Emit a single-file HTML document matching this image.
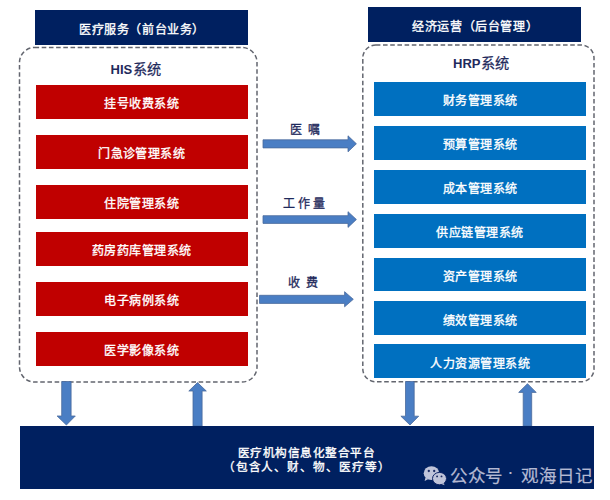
<!DOCTYPE html>
<html lang="zh-CN">
<head>
<meta charset="utf-8">
<style>
html,body{margin:0;padding:0;background:#fff;}
body{width:610px;height:500px;position:relative;overflow:hidden;font-family:"Liberation Serif",serif;}
.b{position:absolute;display:flex;align-items:center;justify-content:center;color:#fff;white-space:nowrap;}
.nv{background:#002060;}
.rd{background:#C00000;left:35.5px;width:212px;height:34px;font-size:12px;letter-spacing:0.45px;text-indent:0.45px;-webkit-text-stroke:0.35px #fff;padding-top:1px;box-sizing:border-box;}
.bl{background:#0070C0;left:373.5px;width:212.5px;height:33.5px;font-size:12px;letter-spacing:0.5px;text-indent:0.5px;padding-top:3px;box-sizing:border-box;-webkit-text-stroke:0.35px #fff;}
.hd{font-size:12px;letter-spacing:0.6px;text-indent:1px;-webkit-text-stroke:0.35px #fff;padding-top:2px;box-sizing:border-box;}
.t{position:absolute;white-space:nowrap;color:#1f2a5c;}
.ttl{font-family:"Liberation Sans",sans-serif;font-weight:bold;font-size:13px;}
.ttl span{font-weight:normal;-webkit-text-stroke:0.25px #1f2a5c;font-size:14.2px;letter-spacing:0.4px;margin-left:0.5px;}
.lb{font-size:12px;-webkit-text-stroke:0.3px #1f2a5c;}
svg{position:absolute;left:0;top:0;}
.wm{font-family:"Liberation Sans",sans-serif;font-size:17.5px;color:#b4b9d2;-webkit-text-stroke:0.2px #b4b9d2;}
</style>
</head>
<body>
<svg width="610" height="500" viewBox="0 0 610 500">
  <rect x="19.5" y="47.5" width="237.5" height="334.5" rx="15" ry="15" fill="none" stroke="#63666f" stroke-width="1.5" stroke-dasharray="4.6 2.6"/>
  <rect x="362.8" y="45" width="231.2" height="336.8" rx="13" ry="13" fill="none" stroke="#63666f" stroke-width="1.5" stroke-dasharray="4.6 2.6"/>
</svg>

<div class="b nv hd" style="left:35px;top:10px;width:213px;height:35px;">医疗服务（前台业务）</div>
<div class="b nv hd" style="left:368px;top:7px;width:213.3px;height:34.5px;padding-top:4px;">经济运营（后台管理）</div>

<div class="t ttl" style="left:110.5px;top:58px;">HIS<span>系统</span></div>
<div class="t ttl" style="left:453px;top:52px;">HRP<span>系统</span></div>

<div class="b rd" style="top:85px;">挂号收费系统</div>
<div class="b rd" style="top:135px;">门急诊管理系统</div>
<div class="b rd" style="top:185px;">住院管理系统</div>
<div class="b rd" style="top:232px;">药房药库管理系统</div>
<div class="b rd" style="top:282px;">电子病例系统</div>
<div class="b rd" style="top:332px;">医学影像系统</div>

<div class="b bl" style="top:82.2px;">财务管理系统</div>
<div class="b bl" style="top:126.2px;">预算管理系统</div>
<div class="b bl" style="top:170px;">成本管理系统</div>
<div class="b bl" style="top:214px;">供应链管理系统</div>
<div class="b bl" style="top:257.7px;">资产管理系统</div>
<div class="b bl" style="top:301.4px;">绩效管理系统</div>
<div class="b bl" style="top:344.4px;">人力资源管理系统</div>

<div class="t lb" style="left:290px;top:119.5px;">医&nbsp;&nbsp;嘱</div>
<div class="t lb" style="left:283px;top:194px;letter-spacing:2.8px;">工作量</div>
<div class="t lb" style="left:288.4px;top:273px;">收&nbsp;&nbsp;费</div>

<svg width="610" height="500" viewBox="0 0 610 500">
  <g fill="#4a7ec4" stroke="#4a6a9c" stroke-width="0.8" stroke-linejoin="miter">
    <!-- horizontal arrows -->
    <polygon points="263,139.8 348,139.8 348,135.8 356.4,143.8 348,151.8 348,147.9 263,147.9"/>
    <polygon points="263,215.7 348,215.7 348,211.7 356.4,219.5 348,227.4 348,223.4 263,223.4"/>
    <polygon points="259.5,295.3 344.6,295.3 344.6,291.7 353.3,299.3 344.6,306.8 344.6,303.4 259.5,303.4"/>
    <!-- vertical arrows -->
    <polygon points="61.7,381.5 71.1,381.5 71.1,416 75.3,416 66.4,425 57.1,416 61.7,416"/>
    <polygon points="197.5,382.6 206.3,391 202.1,391 202.1,426 193,426 193,391 188.8,391"/>
    <polygon points="405.5,381.5 414.2,381.5 414.2,416.2 418.7,416.2 410,425 400.9,416.2 405.5,416.2"/>
    <polygon points="527.5,383.7 536.2,392.4 531.7,392.4 531.7,426 523.2,426 523.2,392.4 518.7,392.4"/>
  </g>
</svg>

<div class="b nv" style="left:19.5px;top:426px;width:574.2px;height:63px;flex-direction:column;font-size:11.6px;-webkit-text-stroke:0.35px #fff;line-height:14px;padding-top:6.5px;box-sizing:border-box;">
  <div style="letter-spacing:0.5px">医疗机构信息化整合平台</div>
  <div style="letter-spacing:0.9px">（包含人、财、物、医疗等）</div>
</div>

<svg width="610" height="500" viewBox="0 0 610 500">
  <ellipse cx="431.5" cy="473.2" rx="7.8" ry="6.9" fill="#bfc4da"/>
  <path d="M425.5,477.5 L424.6,481 L428.5,479 Z" fill="#bfc4da"/>
  <ellipse cx="439.5" cy="478.6" rx="7" ry="6.2" fill="#bfc4da" stroke="#0e2466" stroke-width="1"/>
  <path d="M443.5,483 L444.6,485.3 L441.5,484 Z" fill="#bfc4da"/>
  <g fill="#1a2a62">
    <circle cx="428.8" cy="471" r="1.15"/><circle cx="434.2" cy="471" r="1.15"/>
    <circle cx="437.1" cy="476.4" r="0.95"/><circle cx="441.5" cy="476.4" r="0.95"/>
  </g>
</svg>
<div class="t wm" style="left:450.3px;top:461.5px;letter-spacing:0.4px;">公众号</div>
<div class="t wm" style="left:507.4px;top:461.5px;">·</div>
<div class="t wm" style="left:520.8px;top:462px;letter-spacing:1px;">观海日记</div>
</body>
</html>
